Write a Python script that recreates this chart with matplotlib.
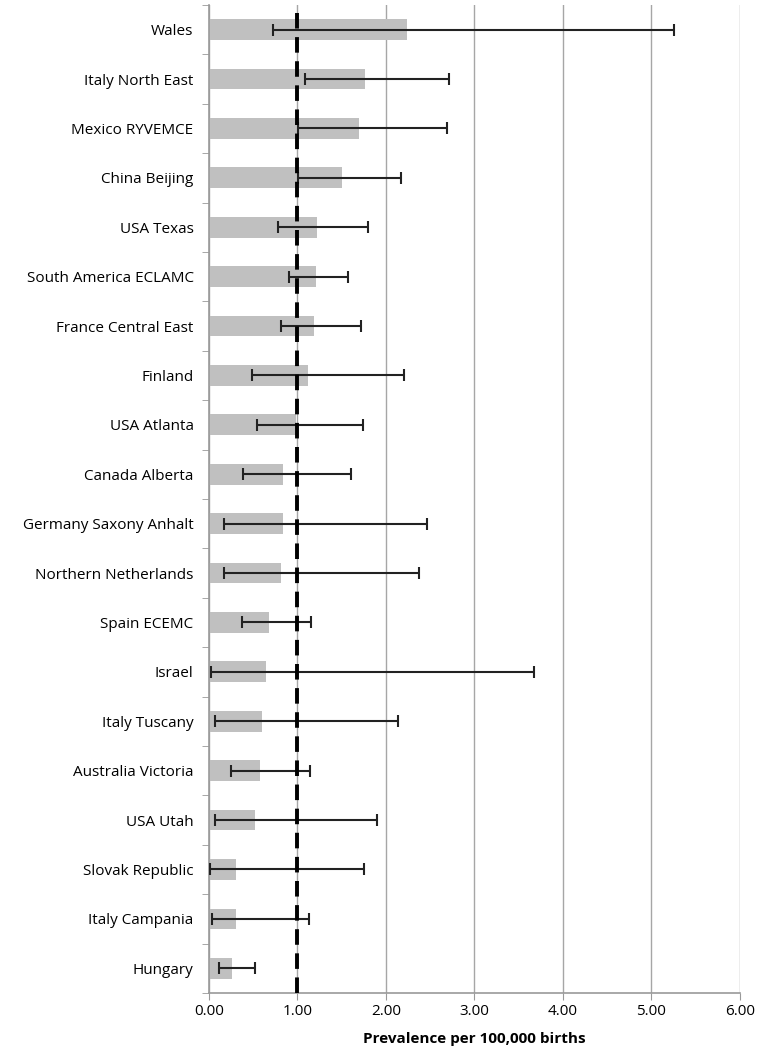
import numpy as np
import matplotlib.pyplot as plt
from matplotlib.ticker import FixedLocator

plt.rcParams['font.family'] = ['Open Sans', 'DejaVu Sans']

regions = ['Wales', 'Italy North East', 'Mexico RYVEMCE', 'China Beijing', 'USA Texas',
           'South America ECLAMC', 'France Central East', 'Finland', 'USA Atlanta',
           'Canada Alberta', 'Germany Saxony Anhalt', 'Northern Netherlands', 'Spain ECEMC',
           'Israel', 'Italy Tuscany', 'Australia Victoria', 'USA Utah', 'Slovak Republic',
           'Italy Campania', 'Hungary']
prevalence = [2.24, 1.77, 1.70, 1.51, 1.22, 1.21, 1.19, 1.12, 0.99, 0.84,
              0.84, 0.82, 0.68, 0.65, 0.60, 0.58, 0.52, 0.31, 0.31, 0.26]
ci_low = [0.73, 1.09, 1.01, 1.01, 0.78, 0.91, 0.82, 0.49, 0.54, 0.39,
          0.17, 0.17, 0.37, 0.02, 0.07, 0.25, 0.07, 0.01, 0.04, 0.11]
ci_high = [5.25, 2.71, 2.69, 2.17, 1.80, 1.57, 1.72, 2.21, 1.74, 1.61,
           2.47, 2.37, 1.15, 3.67, 2.14, 1.14, 1.90, 1.75, 1.13, 0.52]
ref_value = 1.0

fig = plt.figure(figsize=(7.62, 10.5), dpi=100)
ax = fig.add_axes([0.274, 0.0543, 0.697, 0.941])

y = np.arange(len(regions))
prev = np.array(prevalence)
err = [prev - np.array(ci_low), np.array(ci_high) - prev]

ax.barh(y, prev, height=0.42, color='#c0c0c0', zorder=2)
ax.errorbar(prev, y, xerr=err, fmt='none', ecolor='#222222', elinewidth=1.5,
            capsize=4, capthick=1.5, zorder=3)
ax.axvline(ref_value, color='black', linestyle=(0, (4, 2.2)), linewidth=2.8, zorder=4)

ax.set_ylim(len(regions) - 0.5, -0.5)
ax.set_xlim(0, 6)
ax.set_yticks(y)
ax.set_yticklabels(regions, fontsize=11)
ax.yaxis.set_minor_locator(FixedLocator(np.arange(-0.5, len(regions), 1)))
ax.tick_params(axis='y', which='major', length=0, pad=11)
ax.tick_params(axis='y', which='minor', length=5, color='#999999')

ax.set_xticks(np.arange(0, 7, 1))
ax.set_xticklabels([f'{v:.2f}' for v in range(7)], fontsize=11)
ax.tick_params(axis='x', length=5, color='#999999', pad=3)
ax.grid(axis='x', color='#a6a6a6', linewidth=1.0, zorder=0)
ax.set_axisbelow(True)

for side in ['top', 'right']:
    ax.spines[side].set_visible(False)
for side in ['left', 'bottom']:
    ax.spines[side].set_color('#999999')
    ax.spines[side].set_linewidth(1.2)

ax.set_xlabel('Prevalence per 100,000 births', fontsize=11, fontweight='bold', labelpad=9)

fig.savefig('out.png', dpi=100)
